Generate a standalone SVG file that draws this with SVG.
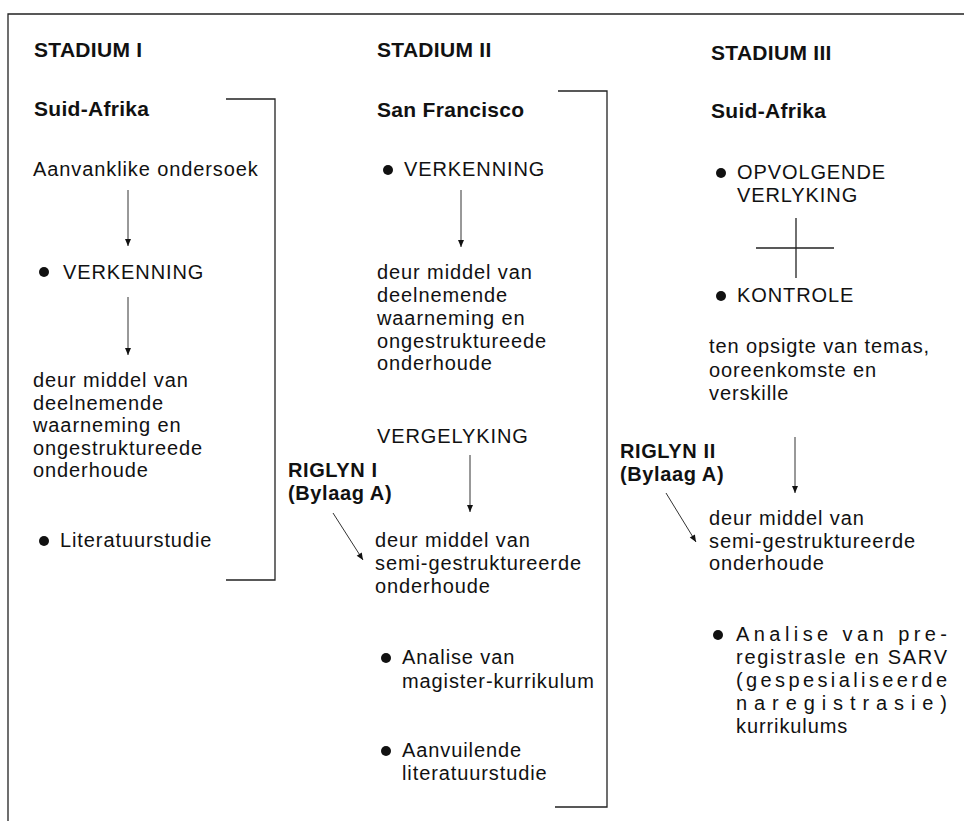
<svg xmlns="http://www.w3.org/2000/svg" width="964" height="821" viewBox="0 0 964 821">
<defs>
<style>
text{font-family:"Liberation Sans",Arial,Helvetica,sans-serif;fill:#111;}
.h{font-size:21px;font-weight:bold;letter-spacing:0.3px;}
.r{font-size:20px;font-weight:bold;letter-spacing:0.6px;}
.t{font-size:20px;letter-spacing:0.9px;}
.j{font-size:20px;}
.ln{stroke:#222;stroke-width:1.3;fill:none;}
.ar{stroke:#333;stroke-width:1;fill:none;marker-end:url(#ah);}
.b{fill:#111;}
</style>
<marker id="ah" viewBox="0 0 10 8" refX="9" refY="4" markerWidth="10" markerHeight="8" markerUnits="userSpaceOnUse" orient="auto">
<path d="M2,1 L9,4 L2,7 Z" fill="#111"/>
</marker>
</defs>
<rect width="964" height="821" fill="#fff"/>
<g id="frame">
<path class="ln" d="M8,821 V14 H964" stroke-width="2"/>
</g>
<g id="stage1">
<text class="h" x="34" y="57">STADIUM I</text>
<text class="h" x="34" y="116">Suid-Afrika</text>
<text class="t" x="33" y="176">Aanvanklike ondersoek</text>
<circle class="b" cx="44" cy="272" r="5"/>
<text class="t" x="63" y="279">VERKENNING</text>
<text class="t"><tspan x="33" y="387">deur middel van</tspan><tspan x="33" y="410">deelnemende</tspan><tspan x="33" y="432">waarneming en</tspan><tspan x="33" y="455">ongestruktureede</tspan><tspan x="33" y="477">onderhoude</tspan></text>
<circle class="b" cx="44" cy="541" r="5"/>
<text class="t" x="60" y="547">Literatuurstudie</text>
</g>
<g id="stage2">
<text class="h" x="377" y="57">STADIUM II</text>
<text class="h" x="377" y="117">San Francisco</text>
<circle class="b" cx="388" cy="170" r="5"/>
<text class="t" x="404" y="176">VERKENNING</text>
<text class="t"><tspan x="377" y="279">deur middel van</tspan><tspan x="377" y="302">deelnemende</tspan><tspan x="377" y="325">waarneming en</tspan><tspan x="377" y="348">ongestruktureede</tspan><tspan x="377" y="370">onderhoude</tspan></text>
<text class="t" x="377" y="443">VERGELYKING</text>
<text class="r" x="288" y="477">RIGLYN I</text>
<text class="r" x="288" y="500">(Bylaag A)</text>
<text class="t"><tspan x="375" y="547">deur middel van</tspan><tspan x="375" y="570">semi-gestruktureerde</tspan><tspan x="375" y="593">onderhoude</tspan></text>
<circle class="b" cx="386" cy="658" r="5"/>
<text class="t"><tspan x="402" y="664">Analise van</tspan><tspan x="402" y="688">magister-kurrikulum</tspan></text>
<circle class="b" cx="386" cy="751" r="5"/>
<text class="t"><tspan x="402" y="757">Aanvuilende</tspan><tspan x="402" y="780">literatuurstudie</tspan></text>
</g>
<g id="stage3">
<text class="h" x="711" y="60">STADIUM III</text>
<text class="h" x="711" y="118">Suid-Afrika</text>
<circle class="b" cx="721" cy="173" r="5"/>
<text class="t"><tspan x="737" y="179">OPVOLGENDE</tspan><tspan x="737" y="202">VERLYKING</tspan></text>
<circle class="b" cx="721" cy="296" r="5"/>
<text class="t" x="737" y="302">KONTROLE</text>
<text class="t"><tspan x="709" y="353">ten opsigte van temas,</tspan><tspan x="709" y="377">ooreenkomste en</tspan><tspan x="709" y="400">verskille</tspan></text>
<text class="r" x="620" y="458">RIGLYN II</text>
<text class="r" x="620" y="481">(Bylaag A)</text>
<text class="t"><tspan x="709" y="525">deur middel van</tspan><tspan x="709" y="548">semi-gestruktureerde</tspan><tspan x="709" y="570">onderhoude</tspan></text>
<circle class="b" cx="718" cy="635" r="5"/>
<text class="j" x="736" y="641" textLength="211" lengthAdjust="spacing">Analise van pre-</text>
<text class="j" x="736" y="664" textLength="211" lengthAdjust="spacing">registrasle en SARV</text>
<text class="j" x="736" y="687" textLength="211" lengthAdjust="spacing">(gespesialiseerde</text>
<text class="j" x="736" y="710" textLength="211" lengthAdjust="spacing">naregistrasie)</text>
<text class="t" x="736" y="733">kurrikulums</text>
</g>
<g id="connectors">
<path class="ln" d="M226,99 H275 V580 H226"/>
<path class="ln" d="M558,91 H607 V807 H555"/>
<line class="ar" x1="128" y1="190" x2="128" y2="246"/>
<line class="ar" x1="128" y1="297" x2="128" y2="355"/>
<line class="ar" x1="461" y1="190" x2="461" y2="247"/>
<line class="ar" x1="470" y1="455" x2="470" y2="512"/>
<line class="ar" x1="333" y1="513" x2="363" y2="560"/>
<line class="ar" x1="795" y1="437" x2="795" y2="493"/>
<line class="ar" x1="666" y1="493" x2="696" y2="542"/>
<line class="ln" x1="796" y1="218" x2="796" y2="278" stroke-width="1"/>
<line class="ln" x1="756" y1="248" x2="834" y2="248" stroke-width="1"/>
</g>
</svg>
